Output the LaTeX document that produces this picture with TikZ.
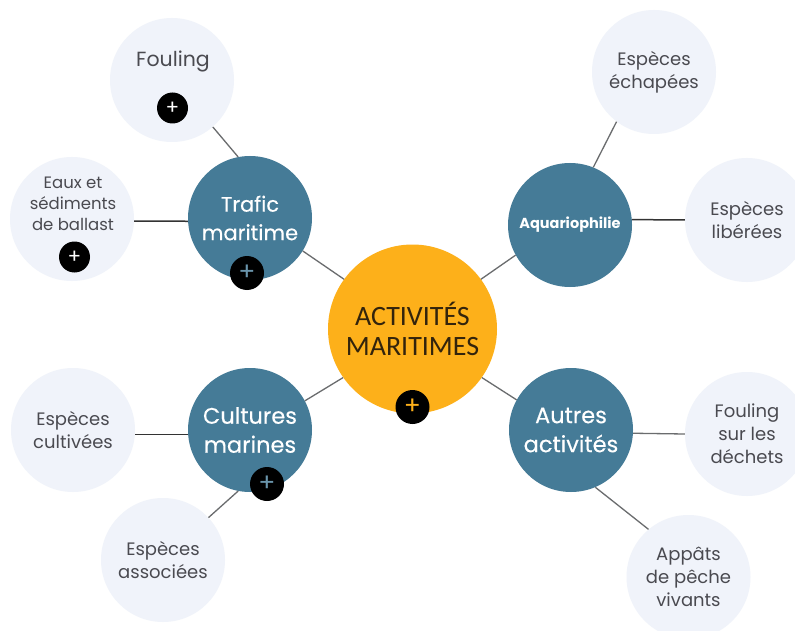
\documentclass[tikz,border=0pt]{standalone}
\usepackage{fontspec}
\setmainfont{Poppins}
\newfontfamily\hubfont{Carlito}
\newfontfamily\midfont[FakeBold=0.3]{Poppins}
\definecolor{hubc}{HTML}{FDB01A}
\definecolor{tealc}{HTML}{457B97}
\definecolor{palec}{HTML}{F0F3FA}
\definecolor{inkc}{HTML}{4A4A50}
\definecolor{linkc}{HTML}{6A6C6E}
\definecolor{hubink}{HTML}{33240C}
\tikzset{
  leaf/.style={circle,fill=palec,minimum size=124pt,inner sep=0pt,align=center,text=inkc,font=\fontsize{18}{23}\selectfont},
  mid/.style={circle,fill=tealc,minimum size=124pt,inner sep=0pt,align=center,text=white,font=\midfont\fontsize{22.5}{29}\selectfont},
  hub/.style={circle,fill=hubc,minimum size=169pt,inner sep=0pt,align=center,text=hubink,font=\hubfont\fontsize{28}{30.5}\selectfont},
  plusb/.style={circle,fill=black,minimum size=#1,inner sep=0pt},
  plusb/.default=31pt,
  link/.style={draw=linkc,line width=1.3pt},
  link2/.style={draw=black!80,line width=1.5pt}
}
\begin{document}
\begin{tikzpicture}[x=1pt,y=-1pt]
\useasboundingbox (0,0) rectangle (795,631);
\clip (0,0) rectangle (795,631);
\fill[white] (0,0) rectangle (795,631);
% nodes
\node[leaf] (fouling) at (172,80) {};
\node[leaf] (eaux) at (72,219) {};
\node[leaf] (echap) at (654,72) {Espèces\\échapées};
\node[leaf] (liber) at (747,220) {Espèces\\libérées};
\node[leaf] (cultiv) at (73,430) {Espèces\\cultivées};
\node[leaf] (assoc) at (163,560) {Espèces\\associées};
\node[leaf] (dechets) at (747,434) {Fouling\\sur les\\déchets};
\node[leaf] (appats) at (688.5,577) {Appâts\\de pêche\\vivants};
\node[mid,font=\midfont\fontsize{21}{28.5}\selectfont] (trafic) at (250,218) {Trafic\\maritime};
\node[mid,font=\bfseries\fontsize{14.5}{16}\selectfont] (aquario) at (570,225) {Aquariophilie};
\node[mid] (cultures) at (250,430) {Cultures\\marines};
\node[mid] (autres) at (571,430) {Autres\\activités};
\node[hub] (hubn) at (412.5,329) {ACTIVITÉS\\MARITIMES};
% connectors
\draw[link] (fouling.-49) -- (trafic.101);
\draw[link2] (eaux.-2) -- (trafic.183);
\draw[link] (trafic.-32) -- (hubn.144);
\draw[link] (aquario.209) -- (hubn.36);
\draw[link] (echap.233.5) -- (aquario.68);
\draw[link2] (aquario.5) -- (liber.west);
\draw[link] (cultures.28) -- (hubn.215);
\draw[link2] (cultiv.-4.5) -- (cultures.184.5);
\draw[link] (assoc.43) -- (cultures.259);
\draw[link] (autres.-3) -- (dechets.west);
\draw[link] (appats.130) -- (autres.-67);
\draw[link] (autres.151) -- (hubn.-35);
% off-centre labels
\node[text=inkc,font=\fontsize{20.5}{24}\selectfont] (foulingt) at (173,61) {Fouling};
\node[text=inkc,align=center,font=\fontsize{16.5}{21}\selectfont] (eauxt) at (73,204) {Eaux et\\sédiments\\de ballast};
% plus buttons
\node[plusb,text=white,font=\fontsize{20}{20}\selectfont] (p1) at (172.5,108) {+};
\node[plusb,text=white,font=\fontsize{20}{20}\selectfont] (p2) at (74.5,257) {+};
\node[plusb=34pt,text=tealc!80!white,font=\fontsize{25}{25}\selectfont] (p3) at (247,273) {+};
\node[plusb=34pt,text=hubc,font=\fontsize{25}{25}\selectfont] (p4) at (412.5,407) {+};
\node[plusb=34pt,text=tealc!80!white,font=\fontsize{25}{25}\selectfont] (p5) at (267,484) {+};
\end{tikzpicture}
\end{document}
